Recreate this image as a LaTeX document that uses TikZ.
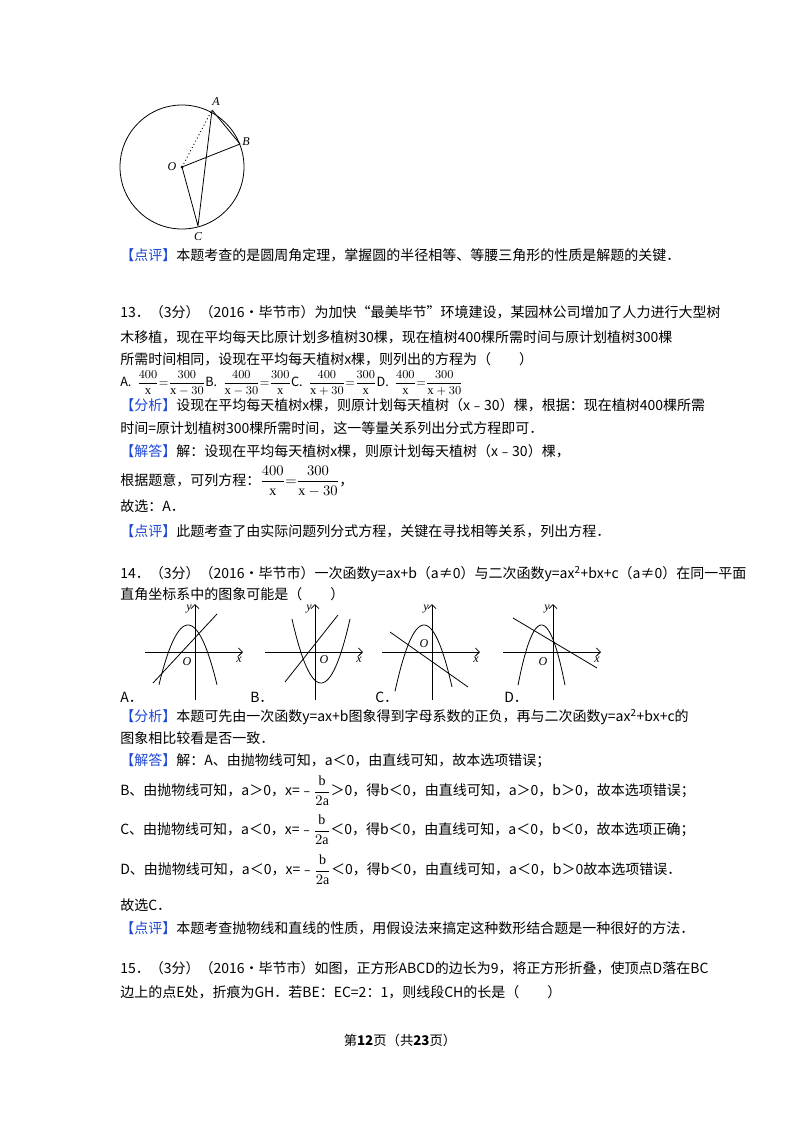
\documentclass[tikz,border=0pt]{standalone}
\usepackage{amsmath}
\usepackage{fontspec}
\usetikzlibrary{arrows.meta}
\newfontfamily\cjk{Noto Sans CJK SC}
\setmainfont{Liberation Serif}
\definecolor{hl}{RGB}{30,70,210}
\newcommand{\hltag}[1]{{\color{hl}【#1】}}
\begin{document}
\begin{tikzpicture}[x=0.75pt,y=-0.75pt,
  txt/.style={anchor=west,inner sep=0pt,font=\cjk\fontsize{10.5}{12}\selectfont},
  lbl/.style={inner sep=0pt,font=\itshape\fontsize{9}{10}\selectfont},
  ax/.style={line width=0.6pt},
  crv/.style={line width=0.6pt}]
\useasboundingbox (0,0) rectangle (800,1132);
% circle figure
\coordinate (O) at (182,167);
\draw[line width=0.6pt] (O) circle (62);
\coordinate (A) at (212,110);
\coordinate (B) at (240,144);
\coordinate (C) at (198,226);
\fill (O) circle (1.5);
\draw[dotted,line width=0.7pt] (O) -- (A);
\draw[line width=0.6pt] (A) -- (B) (O) -- (B) (O) -- (C) (A) -- (C);
\node[lbl] (la) at (216,102) {A};
\node[lbl] (lb) at (246,142) {B};
\node[lbl] (lo) at (172,167) {O};
\node[lbl] (lc) at (198,237) {C};
% text lines
\node[txt] (t1) at (120,255) {\hltag{点评}本题考查的是圆周角定理，掌握圆的半径相等、等腰三角形的性质是解题的关键．};
\node[txt] (t2) at (120,312) {13．（3分）（2016•毕节市）为加快“最美毕节”环境建设，某园林公司增加了人力进行大型树};
\node[txt] (t3) at (120,337) {木移植，现在平均每天比原计划多植树30棵，现在植树400棵所需时间与原计划植树300棵};
\node[txt] (t4) at (120,359) {所需时间相同，设现在平均每天植树x棵，则列出的方程为（　　）};
\node[txt,font=\cjk\fontsize{9.5}{11}\selectfont] (t5) at (120,383) {A.\ \ $\displaystyle\frac{400}{\mathrm{x}}{=}\frac{300}{\mathrm{x}-30}$B.\ \ $\displaystyle\frac{400}{\mathrm{x}-30}{=}\frac{300}{\mathrm{x}}$C.\ \ $\displaystyle\frac{400}{\mathrm{x}+30}{=}\frac{300}{\mathrm{x}}$D.\ \ $\displaystyle\frac{400}{\mathrm{x}}{=}\frac{300}{\mathrm{x}+30}$};
\node[txt] (t6) at (120,405) {\hltag{分析}设现在平均每天植树x棵，则原计划每天植树（x﹣30）棵，根据：现在植树400棵所需};
\node[txt] (t7) at (120,428) {时间=原计划植树300棵所需时间，这一等量关系列出分式方程即可．};
\node[txt] (t8) at (120,451) {\hltag{解答}解：设现在平均每天植树x棵，则原计划每天植树（x﹣30）棵，};
\node[txt] (t9) at (120,481) {根据题意，可列方程：$\displaystyle\frac{400}{\mathrm{x}}{=}\frac{300}{\mathrm{x}-30}$，};
\node[txt] (t10) at (120,506) {故选：A．};
\node[txt] (t11) at (120,531) {\hltag{点评}此题考查了由实际问题列分式方程，关键在寻找相等关系，列出方程．};
\node[txt] (t12) at (120,574) {14．（3分）（2016•毕节市）一次函数y=ax+b（a≠0）与二次函数y=ax\textsuperscript{2}+bx+c（a≠0）在同一平面};
\node[txt] (t13) at (120,594) {直角坐标系中的图象可能是（　　）};
% graphs
\foreach \ox/\vx/\vy/\kk/\la/\lb/\lx/\ly/\mx/\my/\ol/\om in
  {195/-7/-27/0.071/-36/22/-42/31/22/-38/-8/10,
   315/6/31/-0.076/-23/35/-30/30/23/-37/9/8,
   432/-8/-27/0.079/-37/20/-42/-20/36/35/-8/-8,
   553/-11.5/-27/0.109/-35/12/-40/-34/44/16/-10/10}{
 \begin{scope}[shift={(\ox,652)}]
  \draw[ax,-{Straight Barb[length=3pt]}] (-50,0) -- (48,0);
  \draw[ax,-{Straight Barb[length=3pt]}] (0,48) -- (0,-48);
  \node[lbl] at (44,8) {x};
  \node[lbl] at (-6,-43) {y};
  \node[lbl] at (\ol,\om) {O};
  \draw[crv,domain=\la:\lb,samples=40] plot (\x,{\vy+\kk*(\x-\vx)*(\x-\vx)});
  \draw[crv] (\lx,\ly) -- (\mx,\my);
 \end{scope}}
\node[txt] (ga) at (120,697) {A．};
\node[txt] (gb) at (250,697) {B．};
\node[txt] (gc) at (375,697) {C．};
\node[txt] (gd) at (504,697) {D．};
\node[txt] (t14) at (120,717) {\hltag{分析}本题可先由一次函数y=ax+b图象得到字母系数的正负，再与二次函数y=ax\textsuperscript{2}+bx+c的};
\node[txt] (t15) at (120,738) {图象相比较看是否一致．};
\node[txt] (t16) at (120,761) {\hltag{解答}解：A、由抛物线可知，a＜0，由直线可知，故本选项错误；};
\node[txt] (t17) at (120,791) {B、由抛物线可知，a＞0，x=﹣$\displaystyle\frac{\mathrm{b}}{2\mathrm{a}}$＞0，得b＜0，由直线可知，a＞0，b＞0，故本选项错误；};
\node[txt] (t18) at (120,830) {C、由抛物线可知，a＜0，x=﹣$\displaystyle\frac{\mathrm{b}}{2\mathrm{a}}$＜0，得b＜0，由直线可知，a＜0，b＜0，故本选项正确；};
\node[txt] (t19) at (120,870) {D、由抛物线可知，a＜0，x=﹣$\displaystyle\frac{\mathrm{b}}{2\mathrm{a}}$＜0，得b＜0，由直线可知，a＜0，b＞0故本选项错误．};
\node[txt] (t20) at (120,905) {故选C．};
\node[txt] (t21) at (120,928) {\hltag{点评}本题考查抛物线和直线的性质，用假设法来搞定这种数形结合题是一种很好的方法．};
\node[txt] (t22) at (120,968) {15．（3分）（2016•毕节市）如图，正方形ABCD的边长为9，将正方形折叠，使顶点D落在BC};
\node[txt] (t23) at (120,992) {边上的点E处，折痕为GH．若BE：EC=2：1，则线段CH的长是（　　）};
\node[inner sep=0pt,font=\cjk\fontsize{10}{12}\selectfont] (ft) at (400,1040) {第\textbf{12}页（共\textbf{23}页）};
\end{tikzpicture}
\end{document}
